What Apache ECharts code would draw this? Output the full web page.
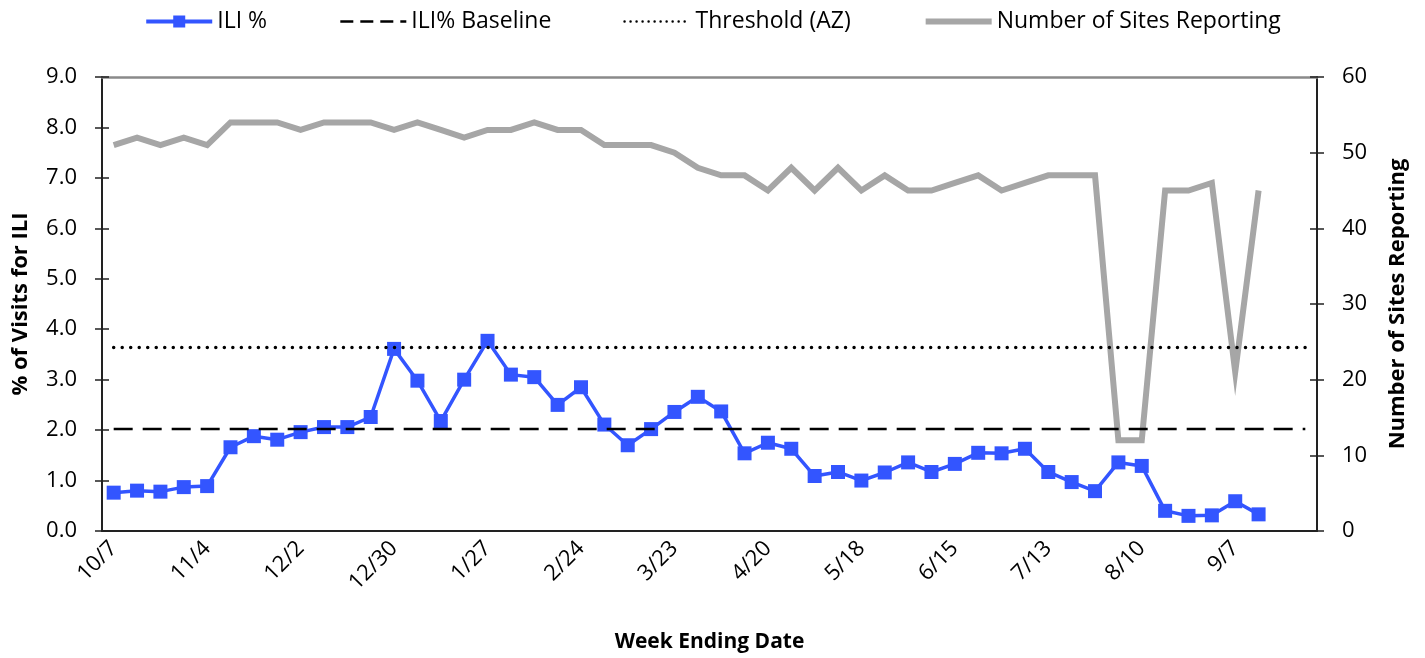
<!DOCTYPE html>
<html>
<head>
<meta charset="utf-8">
<script src="https://cdn.jsdelivr.net/npm/echarts@6/dist/echarts.min.js"></script>
<style>html,body{margin:0;padding:0;background:#fff}#c{width:1425px;height:658px}</style>
</head>
<body>
<div id="c"></div>
<script>
const weeks = ['10/7','10/14','10/21','10/28','11/4','11/11','11/18','11/25','12/2','12/9','12/16','12/23','12/30','1/6','1/13','1/20','1/27','2/3','2/10','2/17','2/24','3/2','3/9','3/16','3/23','3/30','4/6','4/13','4/20','4/27','5/4','5/11','5/18','5/25','6/1','6/8','6/15','6/22','6/29','7/6','7/13','7/20','7/27','8/3','8/10','8/17','8/24','8/31','9/7','9/14','9/21','9/28'];
const iliPct = [0.76,0.80,0.78,0.87,0.89,1.66,1.88,1.81,1.96,2.06,2.06,2.26,3.61,2.98,2.18,3.00,3.77,3.10,3.05,2.50,2.85,2.11,1.70,2.02,2.36,2.66,2.37,1.54,1.75,1.63,1.09,1.17,1.00,1.16,1.36,1.17,1.33,1.55,1.54,1.63,1.17,0.97,0.79,1.36,1.29,0.40,0.30,0.31,0.59,0.33];
const sitesReporting = [51,52,51,52,51,54,54,54,53,54,54,54,53,54,53,52,53,53,54,53,53,51,51,51,50,48,47,47,45,48,45,48,45,47,45,45,46,47,45,46,47,47,47,12,12,45,45,46,21,45];
const iliBaseline = [2.02,2.02,2.02,2.02,2.02,2.02,2.02,2.02,2.02,2.02,2.02,2.02,2.02,2.02,2.02,2.02,2.02,2.02,2.02,2.02,2.02,2.02,2.02,2.02,2.02,2.02,2.02,2.02,2.02,2.02,2.02,2.02,2.02,2.02,2.02,2.02,2.02,2.02,2.02,2.02,2.02,2.02,2.02,2.02,2.02,2.02,2.02,2.02,2.02,2.02,2.02,2.02];
const thresholdAZ = [3.64,3.64,3.64,3.64,3.64,3.64,3.64,3.64,3.64,3.64,3.64,3.64,3.64,3.64,3.64,3.64,3.64,3.64,3.64,3.64,3.64,3.64,3.64,3.64,3.64,3.64,3.64,3.64,3.64,3.64,3.64,3.64,3.64,3.64,3.64,3.64,3.64,3.64,3.64,3.64,3.64,3.64,3.64,3.64,3.64,3.64,3.64,3.64,3.64,3.64,3.64,3.64];
const leftTicks = {min:0, max:9, interval:1};
const rightTicks = {min:0, max:60, interval:10};

const FONT = 'Open Sans';
const BLUE = '#3355ff', GRAY = '#a6a6a6';
const chart = echarts.init(document.getElementById('c'));
chart.setOption({
  animation:false,
  textStyle:{fontFamily:FONT, color:'#000'},
  legend:{
    top:5, left:'center', itemGap:72, itemWidth:66, itemHeight:15,
    textStyle:{fontFamily:FONT, fontSize:23, color:'#000'},
    data:[
      {name:'ILI %', lineStyle:{width:4, color:BLUE}},
      {name:'ILI% Baseline', itemStyle:{opacity:0}, lineStyle:{width:2.5, color:'#000', type:[13,7]}},
      {name:'Threshold (AZ)', itemStyle:{opacity:0}, lineStyle:{width:2.5, color:'#000', type:[0.01,6], cap:'round'}},
      {name:'Number of Sites Reporting', itemStyle:{opacity:0}, lineStyle:{width:6, color:GRAY}}
    ]
  },
  grid:{left:102, right:108, top:77, bottom:126, containLabel:false},
  xAxis:[{
    type:'category', data:weeks, boundaryGap:true,
    name:'Week Ending Date', nameLocation:'middle', nameGap:101,
    nameTextStyle:{fontFamily:FONT, fontSize:21, fontWeight:'bold', color:'#000'},
    axisLine:{lineStyle:{color:'#222', width:2}},
    axisTick:{show:false},
    axisLabel:{interval:3, rotate:45, fontSize:22, color:'#000', margin:14, fontFamily:FONT}
  },{
    type:'category', data:weeks, boundaryGap:true, position:'top', show:true,
    axisLine:{show:true, onZero:false, lineStyle:{color:'#8a8a8a', width:2.5}},
    axisTick:{show:false}, axisLabel:{show:false}, splitLine:{show:false}
  }],
  yAxis:[{
    type:'value', position:'left', min:leftTicks.min, max:leftTicks.max, interval:leftTicks.interval,
    name:'% of Visits for ILI', nameLocation:'middle', nameGap:70,
    nameTextStyle:{fontFamily:FONT, fontSize:22, fontWeight:'bold', color:'#000'},
    axisLine:{show:true, lineStyle:{color:'#222', width:2}},
    axisTick:{show:true, length:7, lineStyle:{color:'#222', width:1.5}},
    axisLabel:{formatter:v=>v.toFixed(1), fontSize:22, color:'#000', margin:25, fontFamily:FONT},
    splitLine:{show:false}
  },{
    type:'value', position:'right', min:rightTicks.min, max:rightTicks.max, interval:rightTicks.interval,
    name:'Number of Sites Reporting', nameLocation:'middle', nameGap:70,
    nameTextStyle:{fontFamily:FONT, fontSize:22, fontWeight:'bold', color:'#000'},
    axisLine:{show:true, lineStyle:{color:'#222', width:2}},
    axisTick:{show:true, length:7, lineStyle:{color:'#222', width:1.5}},
    axisLabel:{fontSize:22, color:'#000', margin:25, fontFamily:FONT},
    splitLine:{show:false}
  },{
    type:'value', position:'left', min:leftTicks.min, max:leftTicks.max, interval:leftTicks.interval,
    axisLine:{show:false}, axisLabel:{show:false}, splitLine:{show:false},
    axisTick:{show:true, inside:true, length:7, lineStyle:{color:'#222', width:1.5}}
  },{
    type:'value', position:'right', min:rightTicks.min, max:rightTicks.max, interval:rightTicks.interval,
    axisLine:{show:false}, axisLabel:{show:false}, splitLine:{show:false},
    axisTick:{show:true, inside:true, length:7, lineStyle:{color:'#222', width:1.5}}
  }],
  series:[{
    name:'Number of Sites Reporting', type:'line', yAxisIndex:1, data:sitesReporting,
    symbol:'none', z:1,
    lineStyle:{color:GRAY, width:6, join:'miter'}, itemStyle:{color:GRAY}
  },{
    name:'ILI %', type:'line', yAxisIndex:0, data:iliPct, z:2,
    symbol:'rect', symbolSize:14, showAllSymbol:true,
    lineStyle:{color:BLUE, width:3.5}, itemStyle:{color:BLUE}
  },{
    name:'ILI% Baseline', type:'line', yAxisIndex:0, data:iliBaseline, z:3,
    symbol:'none',
    lineStyle:{color:'#000', width:2.5, type:[19,10]}, itemStyle:{color:'#000'}
  },{
    name:'Threshold (AZ)', type:'line', yAxisIndex:0, data:thresholdAZ, z:4,
    symbol:'none',
    lineStyle:{color:'#000', width:3.5, type:[0.01,8.5], cap:'round'}, itemStyle:{color:'#000'}
  }]
});
</script>
</body>
</html>
